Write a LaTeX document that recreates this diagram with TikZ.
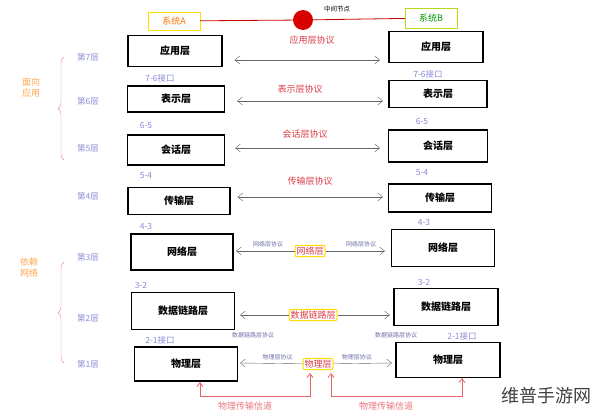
\documentclass[tikz,border=0pt]{standalone}
\usepackage{fontspec}
\setmainfont{Noto Sans CJK SC}
\usetikzlibrary{arrows.meta, decorations.pathreplacing}
\definecolor{lila}{RGB}{140,140,215}
\definecolor{rouge}{RGB}{220,60,70}
\tikzstyle{layer} = [rectangle, draw=black, line width=1.2pt, inner sep=0pt, font=\bfseries\fontsize{10}{11}\selectfont]
\tikzstyle{lvl} = [text=lila, font=\fontsize{8.5}{9}\selectfont]
\tikzstyle{proto} = [text=rouge, font=\fontsize{9}{10}\selectfont]
\tikzstyle{small} = [text=lila!80!black, font=\fontsize{6}{7}\selectfont]
\tikzstyle{peer} = [rectangle, draw=yellow!80!orange, line width=1pt, rounded corners=2pt, text=rouge, fill=white, inner sep=1.5pt, font=\fontsize{9}{10}\selectfont]
\tikzstyle{arrow} = [gray!80!black, <->, >={Straight Barb[length=5pt,width=8pt]}]
\tikzstyle{oneway} = [gray!80!black, ->, >={Straight Barb[length=5pt,width=8pt]}]
\tikzstyle{channel} = [rouge!80, thick, ->, >={Straight Barb[length=4pt,width=6pt]}]

\begin{document}
\begin{tikzpicture}[x=1pt,y=-1pt]
\useasboundingbox (0,0) rectangle (600,415);

% system A / B and middle node
\node (sysA) [rectangle, draw=yellow!80!orange, text=orange!90!red, minimum width=52pt, minimum height=18pt, font=\fontsize{9}{10}\selectfont] at (174,21) {系统A};
\node (sysB) [rectangle, draw=yellow!70!green, text=green!60!black, minimum width=52pt, minimum height=20pt, font=\fontsize{9}{10}\selectfont] at (431,18) {系统B};
\node (mid) [circle, fill=red!85!black, minimum size=20pt, inner sep=0pt] at (303,20) {};
\node (midl) [font=\fontsize{6.5}{7}\selectfont] at (337,9) {中间节点};
\draw [red!80!black, thick] (sysA) -- (mid) -- (sysB);

% left stack
\node (a7) [layer, minimum width=94pt, minimum height=31pt] at (175,51) {应用层};
\node (a6) [layer, minimum width=97pt, minimum height=26pt] at (176,99) {表示层};
\node (a5) [layer, minimum width=97pt, minimum height=30pt] at (176,150) {会话层};
\node (a4) [layer, minimum width=102pt, minimum height=27pt] at (179,201) {传输层};
\node (a3) [layer, minimum width=102pt, minimum height=36pt] at (182,252) {网络层};
\node (a2) [layer, minimum width=103pt, minimum height=37pt] at (183,311) {数据链路层};
\node (a1) [layer, minimum width=103pt, minimum height=34pt] at (186,364) {物理层};

% right stack
\node (b7) [layer, minimum width=94pt, minimum height=31pt] at (436,47) {应用层};
\node (b6) [layer, minimum width=98pt, minimum height=27pt] at (438,94) {表示层};
\node (b5) [layer, minimum width=99pt, minimum height=32pt] at (438,146) {会话层};
\node (b4) [layer, minimum width=103pt, minimum height=28pt] at (440,198) {传输层};
\node (b3) [layer, minimum width=103pt, minimum height=37pt] at (443,248) {网络层};
\node (b2) [layer, minimum width=104pt, minimum height=37pt] at (446,307) {数据链路层};
\node (b1) [layer, minimum width=104pt, minimum height=35pt] at (448,360) {物理层};

% layer numbers
\node (n7) [lvl] at (88,57) {第7层};
\node (n6) [lvl] at (88,101) {第6层};
\node (n5) [lvl] at (88,148) {第5层};
\node (n4) [lvl] at (88,196) {第4层};
\node (n3) [lvl] at (88,257) {第3层};
\node (n2) [lvl] at (88,318) {第2层};
\node (n1) [lvl] at (88,364) {第1层};

% braces
\node (app) [text=orange!70, align=center, font=\fontsize{9}{11}\selectfont] at (31,88) {面向\\应用};
\node (net) [text=orange!70, align=center, font=\fontsize{9}{11}\selectfont] at (29,268) {依赖\\网络};
\draw [rouge!60, decorate, decoration={brace, amplitude=6pt}] (64,160) -- (64,57);
\draw [rouge!60, decorate, decoration={brace, amplitude=6pt}] (64,363) -- (64,262);

% interfaces
\node (i76a) [lvl] at (160,78) {7-6接口};
\node (i76b) [lvl] at (428,74) {7-6接口};
\node (i65a) [lvl] at (146,125) {6-5};
\node (i65b) [lvl] at (422,121) {6-5};
\node (i54a) [lvl] at (146,176) {5-4};
\node (i54b) [lvl] at (422,173) {5-4};
\node (i43a) [lvl] at (146,226) {4-3};
\node (i43b) [lvl] at (424,222) {4-3};
\node (i32a) [lvl] at (141,285) {3-2};
\node (i32b) [lvl] at (424,282) {3-2};
\node (i21a) [lvl] at (160,340) {2-1接口};
\node (i21b) [lvl] at (462,336) {2-1接口};

% peer protocols 7-4
\node (p7) [proto] at (312,40) {应用层协议};
\node (p6) [proto] at (300,89) {表示层协议};
\node (p5) [proto] at (305,134) {会话层协议};
\node (p4) [proto] at (310,181) {传输层协议};
\draw [arrow] (a7.east |- 0,60) ++(12,0) coordinate (l7) -- (380,60) coordinate (r7);
\draw [arrow] (a6.east |- 0,101) ++(12,0) coordinate (l6) -- (383,101) coordinate (r6);
\draw [arrow] (a5.east |- 0,148) ++(10,0) coordinate (l5) -- (380,148) coordinate (r5);
\draw [arrow] (a4.east |- 0,197) ++(7,0) coordinate (l4) -- (383,197) coordinate (r4);

% network
\node (p3) [peer] at (310,251) {网络层};
\coordinate (l3) at (236,251);
\coordinate (r3) at (385,251);
\draw [oneway] (p3) -- node[small, above, pos=0.45] {网络层协议} (l3);
\draw [oneway] (p3) -- node[small, above, pos=0.6] {网络层协议} (r3);

% data link
\node (p2) [peer] at (313,315) {数据链路层};
\coordinate (l2) at (240,315);
\coordinate (r2) at (390,315);
\draw [oneway] (p2) -- (l2);
\draw [oneway] (p2) -- (r2);
\node (d2a) [small] at (253,335) {数据链路层协议};
\node (d2b) [small] at (396,335) {数据链路层协议};

% physical
\node (p1) [peer] at (318,364) {物理层};
\coordinate (l1) at (240,363);
\coordinate (r1) at (392,363);
\draw [oneway] (p1) -- node[small, above, pos=0.4] {物理层协议} (l1);
\draw [oneway] (p1) -- node[small, above, pos=0.4] {物理层协议} (r1);

% channels
\draw [channel, <->] (200,382) -- (200,396) -- (310,396) -- (310,373);
\draw [channel, <->] (331,373) -- (331,396) -- (462,396) -- (462,378);
\node (ch1) [text=rouge!70, font=\fontsize{9}{10}\selectfont] at (245,406) {物理传输信道};
\node (ch2) [text=rouge!70, font=\fontsize{9}{10}\selectfont] at (386,406) {物理传输信道};

\node (wm) [text=black!75, font=\fontsize{18}{19}\selectfont] at (546,396) {维普手游网};
\end{tikzpicture}
\end{document}
